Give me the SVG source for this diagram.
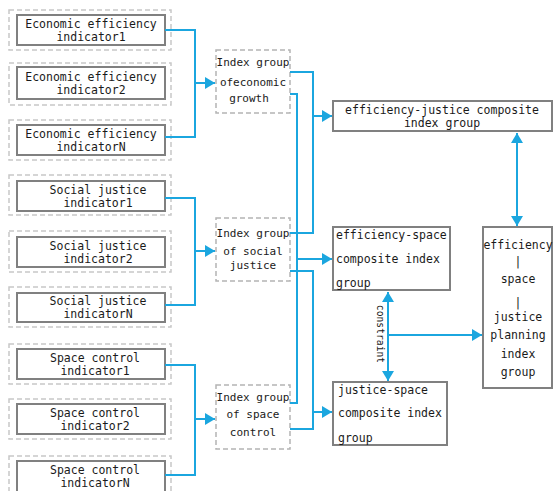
<svg xmlns="http://www.w3.org/2000/svg" width="553" height="491" viewBox="0 0 553 491">
<defs>
<marker id="arr" viewBox="0 0 10 12" refX="10" refY="6" markerWidth="10" markerHeight="12" markerUnits="userSpaceOnUse" orient="auto-start-reverse">
<path d="M0,0 L10,6 L0,12 z" fill="#1ba6df"/>
</marker>
<style>
.outer{fill:none;stroke:#c8c8c8;stroke-width:1.5;stroke-dasharray:5,3}
.inner{fill:#fff;stroke:#808080;stroke-width:2}
.grp{fill:#fff;stroke:#b4b4b4;stroke-width:1.5;stroke-dasharray:5,3}
.box{fill:#fff;stroke:#808080;stroke-width:2}
text{font-family:"DejaVu Sans Mono","Liberation Mono",monospace;font-size:11.5px;fill:#1a1a1a}
.c{text-anchor:middle}
.g{font-size:11px}
.con{fill:none;stroke:#1ba6df;stroke-width:2}
</style>
</defs>
<rect width="553" height="491" fill="#fff"/>

<g id="econ1"><rect class="outer" x="9" y="10" width="162" height="40"/><rect class="inner" x="17" y="15" width="148" height="30"/><text class="c" x="91" y="28">Economic efficiency</text><text class="c" x="91" y="41">indicator1</text></g>
<g id="econ2"><rect class="outer" x="9" y="63" width="162" height="42"/><rect class="inner" x="17" y="67" width="148" height="32"/><text class="c" x="91" y="81">Economic efficiency</text><text class="c" x="91" y="94">indicator2</text></g>
<g id="econN"><rect class="outer" x="9" y="120" width="162" height="40"/><rect class="inner" x="17" y="125" width="148" height="30"/><text class="c" x="91" y="138">Economic efficiency</text><text class="c" x="91" y="151">indicatorN</text></g>

<g id="soc1"><rect class="outer" x="9" y="175" width="162" height="40"/><rect class="inner" x="17" y="181" width="148" height="30"/><text class="c" x="98" y="194">Social justice</text><text class="c" x="98" y="207">indicator1</text></g>
<g id="soc2"><rect class="outer" x="9" y="231" width="162" height="41"/><rect class="inner" x="17" y="237" width="148" height="30"/><text class="c" x="98" y="250">Social justice</text><text class="c" x="98" y="263">indicator2</text></g>
<g id="socN"><rect class="outer" x="9" y="287" width="162" height="40"/><rect class="inner" x="17" y="293" width="148" height="29"/><text class="c" x="98" y="305">Social justice</text><text class="c" x="98" y="318">indicatorN</text></g>

<g id="sp1"><rect class="outer" x="9" y="344" width="162" height="40"/><rect class="inner" x="17" y="349" width="148" height="30"/><text class="c" x="95" y="362">Space control</text><text class="c" x="95" y="375">indicator1</text></g>
<g id="sp2"><rect class="outer" x="9" y="399" width="162" height="40"/><rect class="inner" x="17" y="404" width="148" height="30"/><text class="c" x="95" y="417">Space control</text><text class="c" x="95" y="430">indicator2</text></g>
<g id="spN"><rect class="outer" x="9" y="456" width="162" height="40"/><rect class="inner" x="17" y="461" width="148" height="32"/><text class="c" x="95" y="474">Space control</text><text class="c" x="95" y="487">indicatorN</text></g>

<g id="grpEcon"><rect class="grp" x="216" y="50" width="74" height="63"/><text class="c g" x="253" y="66">Index group</text><text class="c g" x="253" y="86">ofeconomic</text><text class="c g" x="249" y="102">growth</text></g>
<g id="grpSoc"><rect class="grp" x="216" y="218" width="74" height="63"/><text class="c g" x="253" y="237">Index group</text><text class="c g" x="253" y="255">of social</text><text class="c g" x="253" y="269">justice</text></g>
<g id="grpSp"><rect class="grp" x="216" y="385" width="74" height="64"/><text class="c g" x="253" y="401">Index group</text><text class="c g" x="253" y="418">of space</text><text class="c g" x="253" y="436">control</text></g>

<g id="effJus"><rect class="box" x="333" y="101" width="219" height="30"/><text class="c" x="442" y="114">efficiency-justice composite</text><text class="c" x="442" y="127">index group</text></g>
<g id="effSp"><rect class="box" x="333" y="227" width="117" height="63"/><text x="336" y="239">efficiency-space</text><text x="336" y="263">composite index</text><text x="336" y="287">group</text></g>
<g id="jusSp"><rect class="box" x="333" y="382" width="114" height="63"/><text x="338" y="394">justice-space</text><text x="338" y="417">composite index</text><text x="338" y="442">group</text></g>
<g id="plan"><rect class="box" x="483" y="227" width="69" height="161"/><text class="c" x="518" y="249">efficiency</text><text class="c" x="518" y="266" fill="#555">|</text><text class="c" x="518" y="283">space</text><text class="c" x="518" y="307" fill="#555">|</text><text class="c" x="518" y="321">justice</text><text class="c" x="518" y="339">planning</text><text class="c" x="518" y="358">index</text><text class="c" x="518" y="376">group</text></g>

<g id="connectors">
<path class="con" d="M165,30 H195 V137 H165"/>
<path class="con" d="M195,83 H215" marker-end="url(#arr)"/>
<path class="con" d="M165,198 H195 V305 H165"/>
<path class="con" d="M195,251 H215" marker-end="url(#arr)"/>
<path class="con" d="M165,365 H195 V475 H165"/>
<path class="con" d="M195,419 H215" marker-end="url(#arr)"/>
<path class="con" d="M290,72 H313 V233 H290"/>
<path class="con" d="M313,116 H332" marker-end="url(#arr)"/>
<path class="con" d="M290,94 H297 V403 H290"/>
<path class="con" d="M297,259 H332" marker-end="url(#arr)"/>
<path class="con" d="M290,271 H313 V429 H290"/>
<path class="con" d="M313,412 H332" marker-end="url(#arr)"/>
<path class="con" d="M517,133 V226" marker-start="url(#arr)" marker-end="url(#arr)"/>
<path class="con" d="M388,292 V381" marker-start="url(#arr)" marker-end="url(#arr)"/>
<path class="con" d="M388,335 H482" marker-end="url(#arr)"/>
<text x="0" y="0" transform="translate(377,334) rotate(90)" text-anchor="middle" style="font-size:9.7px">constraint</text>
</g>
</svg>
